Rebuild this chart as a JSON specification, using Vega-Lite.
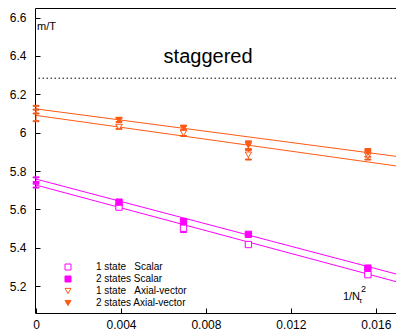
{
  "$schema": "https://vega.github.io/schema/vega-lite/v6.json",
  "width": 361,
  "height": 305,
  "autosize": "none",
  "padding": {"left": 35, "top": 8, "right": 0, "bottom": 18},
  "config": {
    "view": {"stroke": "black", "strokeWidth": 1},
    "font": "Liberation Sans",
    "axis": {
      "labelFont": "Liberation Sans",
      "labelFontSize": 12,
      "labelColor": "black",
      "tickColor": "black",
      "grid": false,
      "title": null
    }
  },
  "data": {"values": [{}]},
  "datasets": {
    "pts": [
      {"series": "1 state\u00a0\u00a0\u00a0Scalar", "x": 0, "y": 5.724, "lo": 5.714, "hi": 5.734},
      {"series": "1 state\u00a0\u00a0\u00a0Scalar", "x": 0.00390625, "y": 5.612, "lo": 5.604, "hi": 5.62},
      {"series": "1 state\u00a0\u00a0\u00a0Scalar", "x": 0.006944, "y": 5.502, "lo": 5.482, "hi": 5.522},
      {"series": "1 state\u00a0\u00a0\u00a0Scalar", "x": 0.01, "y": 5.417, "lo": 5.409, "hi": 5.425},
      {"series": "1 state\u00a0\u00a0\u00a0Scalar", "x": 0.015625, "y": 5.26, "lo": 5.252, "hi": 5.268},
      {"series": "2 states Scalar", "x": 0, "y": 5.755, "lo": 5.743, "hi": 5.767},
      {"series": "2 states Scalar", "x": 0.00390625, "y": 5.638, "lo": 5.628, "hi": 5.648},
      {"series": "2 states Scalar", "x": 0.006944, "y": 5.537, "lo": 5.525, "hi": 5.549},
      {"series": "2 states Scalar", "x": 0.01, "y": 5.47, "lo": 5.464, "hi": 5.476},
      {"series": "2 states Scalar", "x": 0.015625, "y": 5.294, "lo": 5.286, "hi": 5.302},
      {"series": "1 state\u00a0\u00a0\u00a0Axial-vector", "x": 0, "y": 6.09, "lo": 6.06, "hi": 6.12},
      {"series": "1 state\u00a0\u00a0\u00a0Axial-vector", "x": 0.00390625, "y": 6.03, "lo": 6.02, "hi": 6.04},
      {"series": "1 state\u00a0\u00a0\u00a0Axial-vector", "x": 0.006944, "y": 5.998, "lo": 5.983, "hi": 6.013},
      {"series": "1 state\u00a0\u00a0\u00a0Axial-vector", "x": 0.01, "y": 5.885, "lo": 5.86, "hi": 5.91},
      {"series": "1 state\u00a0\u00a0\u00a0Axial-vector", "x": 0.015625, "y": 5.88, "lo": 5.86, "hi": 5.9},
      {"series": "2 states Axial-vector", "x": 0, "y": 6.12, "lo": 6.1, "hi": 6.14},
      {"series": "2 states Axial-vector", "x": 0.00390625, "y": 6.066, "lo": 6.056, "hi": 6.076},
      {"series": "2 states Axial-vector", "x": 0.006944, "y": 6.024, "lo": 6.012, "hi": 6.036},
      {"series": "2 states Axial-vector", "x": 0.01, "y": 5.935, "lo": 5.915, "hi": 5.955},
      {"series": "2 states Axial-vector", "x": 0.015625, "y": 5.895, "lo": 5.875, "hi": 5.915}
    ],
    "fits": [
      {"series": "1 state\u00a0\u00a0\u00a0Scalar", "x": 0, "y": 5.727},
      {"series": "1 state\u00a0\u00a0\u00a0Scalar", "x": 0.017, "y": 5.222},
      {"series": "2 states Scalar", "x": 0, "y": 5.758},
      {"series": "2 states Scalar", "x": 0.017, "y": 5.262},
      {"series": "1 state\u00a0\u00a0\u00a0Axial-vector", "x": 0, "y": 6.09},
      {"series": "1 state\u00a0\u00a0\u00a0Axial-vector", "x": 0.017, "y": 5.826},
      {"series": "2 states Axial-vector", "x": 0, "y": 6.124},
      {"series": "2 states Axial-vector", "x": 0.017, "y": 5.876}
    ]
  },
  "layer": [
    {
      "mark": {"type": "rule", "strokeDash": [1.5, 2.5], "color": "black", "strokeWidth": 1},
      "encoding": {
        "y": {"datum": 6.284, "type": "quantitative"}
      }
    },
    {
      "data": {"name": "fits"},
      "mark": {"type": "line", "strokeWidth": 1, "clip": true},
      "encoding": {
        "x": {
          "field": "x", "type": "quantitative",
          "scale": {"domain": [-0.00005, 0.01695], "nice": false, "zero": false},
          "axis": {"orient": "bottom", "values": [0, 0.004, 0.008, 0.012, 0.016], "format": "~g", "domain": false, "tickSize": 5, "offset": -5, "labelPadding": 6, "labelFlush": false}
        },
        "y": {
          "field": "y", "type": "quantitative",
          "scale": {"domain": [5.06, 6.65], "nice": false, "zero": false},
          "axis": {"orient": "left", "values": [5.2, 5.4, 5.6, 5.8, 6, 6.2, 6.4, 6.6], "format": "~g", "domain": false, "tickSize": 5, "offset": -5, "labelPadding": 9}
        },
        "stroke": {
          "field": "series", "type": "nominal",
          "scale": {"domain": ["1 state\u00a0\u00a0\u00a0Scalar", "2 states Scalar", "1 state\u00a0\u00a0\u00a0Axial-vector", "2 states Axial-vector"], "range": ["#ff00ff", "#ff00ff", "#ff5a14", "#ff5a14"]},
          "legend": {
            "orient": "none", "legendX": 28, "legendY": 254, "title": null, "padding": 0,
            "symbolSize": 36, "symbolStrokeWidth": 1, "labelFont": "Liberation Sans", "labelFontSize": 10, "labelColor": "black",
            "labelOffset": 23, "rowPadding": 2,
            "encode": {"symbols": {"update": {"shape": {"signal": "indexof(datum.value, 'Scalar') >= 0 ? 'M-6,0H6M-6,-0.8V0.8M6,-0.8V0.8M-1,-1H1V1H-1Z' : 'M-6,0H6M-6,-0.8V0.8M6,-0.8V0.8M-1,-0.9H1L0,0.9Z'"}}}}
          }
        }
      }
    },
    {
      "data": {"name": "pts"},
      "mark": {"type": "rule", "strokeWidth": 1},
      "encoding": {
        "x": {"field": "x", "type": "quantitative"},
        "y": {"field": "lo", "type": "quantitative"},
        "y2": {"field": "hi"},
        "stroke": {"field": "series", "type": "nominal"}
      }
    },
    {
      "data": {"name": "pts"},
      "mark": {"type": "tick", "orient": "horizontal", "size": 6, "thickness": 1, "opacity": 1},
      "encoding": {
        "x": {"field": "x", "type": "quantitative"},
        "y": {"field": "lo", "type": "quantitative"},
        "stroke": {"field": "series", "type": "nominal"}
      }
    },
    {
      "data": {"name": "pts"},
      "mark": {"type": "tick", "orient": "horizontal", "size": 6, "thickness": 1, "opacity": 1},
      "encoding": {
        "x": {"field": "x", "type": "quantitative"},
        "y": {"field": "hi", "type": "quantitative"},
        "stroke": {"field": "series", "type": "nominal"}
      }
    },
    {
      "data": {"name": "pts"},
      "transform": [{"filter": "datum.x > 0"}],
      "mark": {"type": "point", "opacity": 1, "strokeWidth": 1, "size": 40},
      "encoding": {
        "x": {"field": "x", "type": "quantitative"},
        "y": {"field": "y", "type": "quantitative"},
        "stroke": {"field": "series", "type": "nominal"},
        "fill": {
          "field": "series", "type": "nominal",
          "scale": {"domain": ["1 state\u00a0\u00a0\u00a0Scalar", "2 states Scalar", "1 state\u00a0\u00a0\u00a0Axial-vector", "2 states Axial-vector"], "range": ["white", "#ff00ff", "white", "#ff5a14"]},
          "legend": {
            "orient": "none", "legendX": 28, "legendY": 254, "title": null, "padding": 0,
            "symbolSize": 36, "symbolStrokeWidth": 1, "labelFont": "Liberation Sans", "labelFontSize": 10, "labelColor": "black",
            "labelOffset": 23, "rowPadding": 2,
            "encode": {"symbols": {"update": {"shape": {"signal": "indexof(datum.value, 'Scalar') >= 0 ? 'M-6,0H6M-6,-0.8V0.8M6,-0.8V0.8M-1,-1H1V1H-1Z' : 'M-6,0H6M-6,-0.8V0.8M6,-0.8V0.8M-1,-0.9H1L0,0.9Z'"}}}}
          }
        },
        "shape": {
          "field": "series", "type": "nominal",
          "scale": {"domain": ["1 state\u00a0\u00a0\u00a0Scalar", "2 states Scalar", "1 state\u00a0\u00a0\u00a0Axial-vector", "2 states Axial-vector"], "range": ["square", "square", "triangle-down", "triangle-down"]},
          "legend": {
            "orient": "none", "legendX": 28, "legendY": 254, "title": null, "padding": 0,
            "symbolSize": 36, "symbolStrokeWidth": 1, "labelFont": "Liberation Sans", "labelFontSize": 10, "labelColor": "black",
            "labelOffset": 23, "rowPadding": 2,
            "encode": {"symbols": {"update": {"shape": {"signal": "indexof(datum.value, 'Scalar') >= 0 ? 'M-6,0H6M-6,-0.8V0.8M6,-0.8V0.8M-1,-1H1V1H-1Z' : 'M-6,0H6M-6,-0.8V0.8M6,-0.8V0.8M-1,-0.9H1L0,0.9Z'"}}}}
          }
        }
      }
    },
    {
      "mark": {"type": "text", "text": "staggered", "fontSize": 20, "align": "center", "baseline": "middle", "color": "black"},
      "encoding": {
        "x": {"datum": 0.0081, "type": "quantitative"},
        "y": {"datum": 6.396, "type": "quantitative"}
      }
    },
    {
      "mark": {"type": "text", "text": "m/T", "fontSize": 11, "align": "left", "baseline": "middle", "color": "black", "dx": 1},
      "encoding": {
        "x": {"datum": 0, "type": "quantitative"},
        "y": {"datum": 6.552, "type": "quantitative"}
      }
    },
    {
      "mark": {"type": "text", "text": "1/N", "fontSize": 11, "align": "left", "baseline": "middle", "color": "black"},
      "encoding": {
        "x": {"datum": 0.01445, "type": "quantitative"},
        "y": {"datum": 5.143, "type": "quantitative"}
      }
    },
    {
      "mark": {"type": "text", "text": "τ", "fontSize": 8, "align": "left", "baseline": "middle", "color": "black", "dx": 16, "dy": 4},
      "encoding": {
        "x": {"datum": 0.01445, "type": "quantitative"},
        "y": {"datum": 5.143, "type": "quantitative"}
      }
    },
    {
      "mark": {"type": "text", "text": "2", "fontSize": 9, "align": "left", "baseline": "middle", "color": "black", "dx": 18, "dy": -8},
      "encoding": {
        "x": {"datum": 0.01445, "type": "quantitative"},
        "y": {"datum": 5.143, "type": "quantitative"}
      }
    }
  ]
}
